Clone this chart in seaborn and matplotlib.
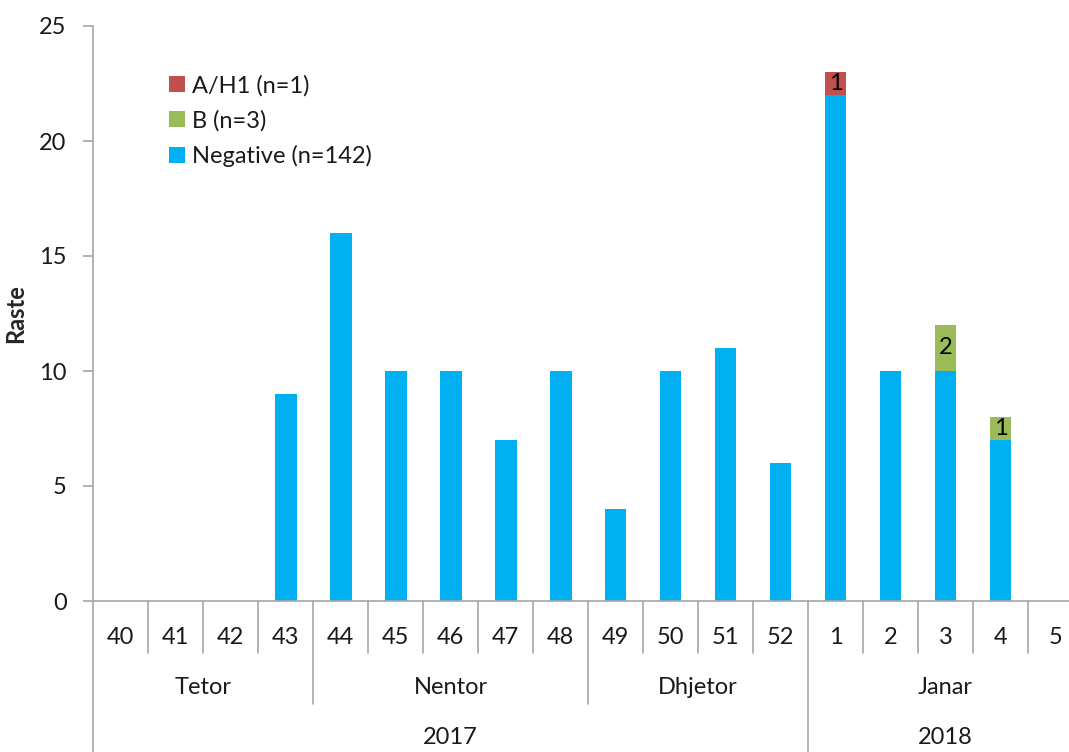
import matplotlib
matplotlib.use("Agg")
import matplotlib.pyplot as plt
import matplotlib.transforms as mtransforms
from matplotlib.patches import Patch
import seaborn as sns
import pandas as pd
import numpy as np

weeks = ["40", "41", "42", "43", "44", "45", "46", "47", "48", "49", "50", "51", "52",
         "1", "2", "3", "4", "5"]
negative = [0, 0, 0, 9, 16, 10, 10, 7, 10, 4, 10, 11, 6, 22, 10, 10, 7, 0]
b_vals = [0, 0, 0, 0, 0, 0, 0, 0, 0, 0, 0, 0, 0, 0, 0, 2, 1, 0]
ah1_vals = [0, 0, 0, 0, 0, 0, 0, 0, 0, 0, 0, 0, 0, 1, 0, 0, 0, 0]
months = ["Tetor", "Nentor", "Dhjetor", "Janar"]
month_counts = [4, 5, 4, 5]
years = ["2017", "2018"]
year_counts = [13, 5]
series_labels = ["A/H1 (n=1)", "B (n=3)", "Negative (n=142)"]
colors = {"A/H1": "#C0504D", "B": "#9BBB59", "Negative": "#00B0F0"}

sns.set_style("white")
plt.rcParams['font.family'] = ['Lato', 'DejaVu Sans']

df = pd.DataFrame({"week": weeks, "neg": negative, "b": b_vals, "ah1": ah1_vals})
df["top_b"] = df["neg"] + df["b"]
df["top_all"] = df["top_b"] + df["ah1"]

W, H = 1069, 752
fig = plt.figure(figsize=(W / 100, H / 100), dpi=100)
ax_left, ax_right, ax_top, ax_bot = 93, 1083, 26, 601
ax = fig.add_axes([ax_left / W, (H - ax_bot) / H, (ax_right - ax_left) / W, (ax_bot - ax_top) / H])

bw = 0.4
sns.barplot(data=df, x="week", y="top_all", order=weeks, color=colors["A/H1"], width=bw,
            saturation=1, ax=ax, linewidth=0)
sns.barplot(data=df, x="week", y="top_b", order=weeks, color=colors["B"], width=bw,
            saturation=1, ax=ax, linewidth=0)
sns.barplot(data=df, x="week", y="neg", order=weeks, color=colors["Negative"], width=bw,
            saturation=1, ax=ax, linewidth=0)

fs = 17
txt = "#1a1a1a"
# segment labels
for i in range(len(weeks)):
    if b_vals[i] > 0:
        ax.text(i, negative[i] + b_vals[i] / 2, str(b_vals[i]), ha="center", va="center",
                fontsize=fs, color="black")
    if ah1_vals[i] > 0:
        base = negative[i] + b_vals[i]
        ax.text(i, base + ah1_vals[i] / 2, str(ah1_vals[i]), ha="center", va="center",
                fontsize=fs, color="black")

ax.set_ylim(0, 25)
ax.set_xlim(-0.5, len(weeks) - 0.5)
ax.set_yticks([0, 5, 10, 15, 20, 25])
ax.set_xticks([])
ax.set_xlabel("")
ax.set_ylabel("Raste", fontsize=17, fontweight="bold")
ax.yaxis.set_label_coords(-0.067, 0.5)
gray = "#A6A6A6"
for s in ["top", "right"]:
    ax.spines[s].set_visible(False)
for s in ["left", "bottom"]:
    ax.spines[s].set_color(gray)
    ax.spines[s].set_linewidth(1.2)
ax.tick_params(axis="y", direction="out", length=7, width=1.2, color=gray,
               labelsize=fs, pad=12, left=True, labelcolor=txt)

# multi-level x axis
tr = mtransforms.blended_transform_factory(ax.transData, ax.transAxes)
axh = ax_bot - ax_top
y_week = -52 / axh
y_month = -103 / axh
y_year = -160 / axh
lk = dict(color=gray, lw=1.2, transform=tr, clip_on=False)

month_bounds = set(np.cumsum(month_counts)[:-1])
year_bounds = set(np.cumsum(year_counts)[:-1])
for k in range(0, len(weeks) + 1):
    x = k - 0.5
    if k == 0 or k in year_bounds:
        y_end = y_year
    elif k in month_bounds:
        y_end = y_month
    else:
        y_end = y_week
    ax.plot([x, x], [0, y_end], **lk)

for i, w in enumerate(weeks):
    ax.text(i, -36 / axh, w, ha="center", va="center", fontsize=fs, transform=tr,
            color=txt, clip_on=False)

start = 0
for m, c in zip(months, month_counts):
    ax.text(start + (c - 1) / 2, -86 / axh, m, ha="center", va="center", fontsize=fs,
            transform=tr, color=txt, clip_on=False)
    start += c

start = 0
for yv, c in zip(years, year_counts):
    ax.text(start + (c - 1) / 2, -137 / axh, yv, ha="center", va="center", fontsize=fs,
            transform=tr, color=txt, clip_on=False)
    start += c

handles = [Patch(facecolor=colors["A/H1"], edgecolor="none"),
           Patch(facecolor=colors["B"], edgecolor="none"),
           Patch(facecolor=colors["Negative"], edgecolor="none")]
ax.legend(handles, series_labels, loc="upper left", bbox_to_anchor=(0.077, 0.915),
          frameon=False, fontsize=fs, handlelength=0.65, handleheight=0.65,
          handletextpad=0.3, labelspacing=0.57, borderpad=0, borderaxespad=0,
          labelcolor=txt)

fig.savefig("out.png", dpi=100)
